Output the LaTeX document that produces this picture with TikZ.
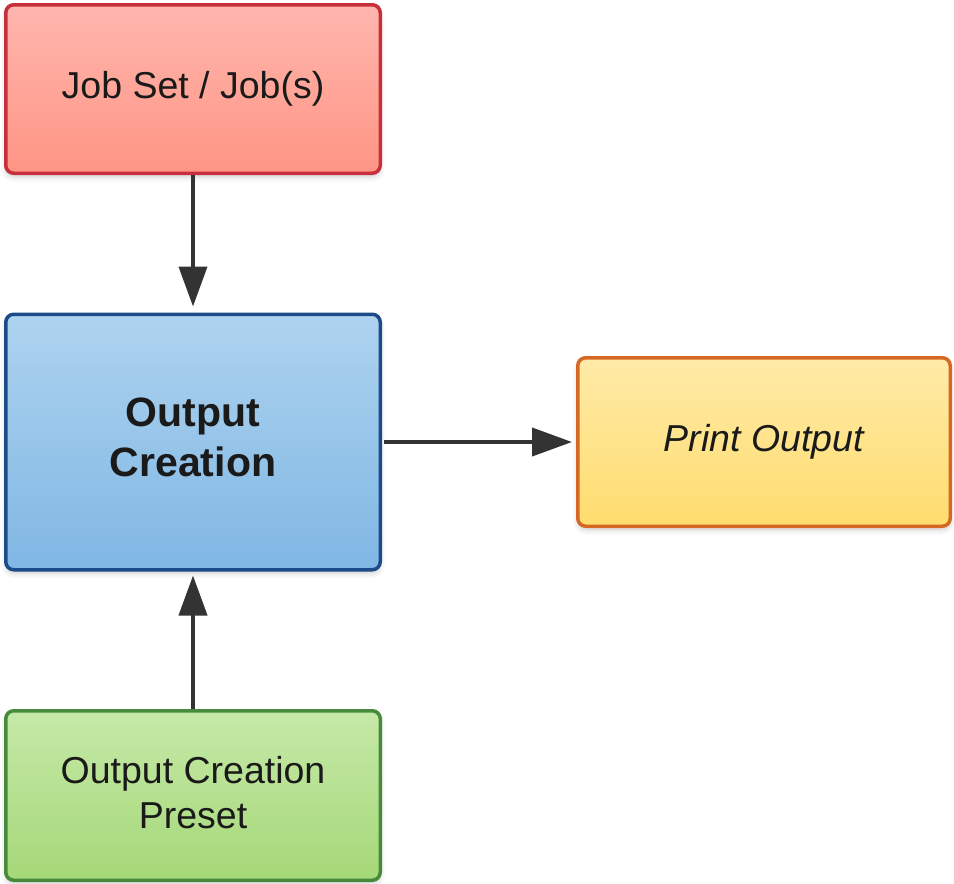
\documentclass[tikz,border=0pt]{standalone}
\usepackage{fontspec}
\setmainfont{Liberation Sans}
\usetikzlibrary{arrows.meta,shadows.blur}

\definecolor{redline}{HTML}{C62F3B}
\definecolor{redtop}{HTML}{FFB6AE}
\definecolor{redbot}{HTML}{FF9584}
\definecolor{blueline}{HTML}{1D4A88}
\definecolor{bluetop}{HTML}{AED3EF}
\definecolor{bluebot}{HTML}{80B7E4}
\definecolor{yelline}{HTML}{D66826}
\definecolor{yeltop}{HTML}{FFEBA8}
\definecolor{yelbot}{HTML}{FFDC6E}
\definecolor{grnline}{HTML}{478A3C}
\definecolor{grntop}{HTML}{C6E9A8}
\definecolor{grnbot}{HTML}{A5D878}
\definecolor{arrowgray}{HTML}{333333}
\definecolor{txt}{HTML}{1A1A1A}

\tikzset{
  box/.style={rectangle, rounded corners=8pt, line width=3.5pt,
    inner sep=0pt, align=center, text=txt,
    font=\fontsize{37.5}{45}\selectfont,
    blur shadow={shadow xshift=0pt, shadow yshift=-4pt,
                 shadow blur radius=5pt, shadow opacity=18}},
  redbox/.style={box, draw=redline, top color=redtop, bottom color=redbot},
  bluebox/.style={box, draw=blueline, top color=bluetop, bottom color=bluebot},
  yelbox/.style={box, draw=yelline, top color=yeltop, bottom color=yelbot},
  grnbox/.style={box, draw=grnline, top color=grntop, bottom color=grnbot},
  boxtext/.style={align=center, text=txt, inner sep=0pt,
    font=\fontsize{37.5}{45}\selectfont},
  flow/.style={draw=arrowgray, line width=4pt,
    -{Triangle[length=40pt,width=28pt]}}
}

\begin{document}
\begin{tikzpicture}[x=1pt,y=-1pt]
  \useasboundingbox (0,0) rectangle (954,884);

  % boxes
  \node[redbox, minimum width=374.5pt, minimum height=168.5pt]
    (jobs) at (193,89) {Job Set / Job(s)};
  \node[bluebox, minimum width=374.5pt, minimum height=255.5pt]
    (create) at (193,442) {};
  \node[yelbox, minimum width=372.5pt, minimum height=168.5pt,
        font=\fontsize{37.5}{45}\selectfont\itshape]
    (print) at (764,442) {Print Output};
  \node[grnbox, minimum width=374.5pt, minimum height=169.5pt]
    (preset) at (193,795.5) {};

  % multi-line labels
  \node[boxtext, font=\fontsize{41}{50}\selectfont\bfseries, yshift=5pt]
    (createlabel) at (create) {Output\\Creation};
  \node[boxtext, yshift=3pt]
    (presetlabel) at (preset) {Output Creation\\Preset};

  % connectors
  \draw[flow, shorten >=6pt] (jobs.south) -- (create.north);
  \draw[flow, shorten <=2pt, shorten >=4pt] (create.east) -- (print.west);
  \draw[flow, shorten >=4pt] (preset.north) -- (create.south);
\end{tikzpicture}
\end{document}
